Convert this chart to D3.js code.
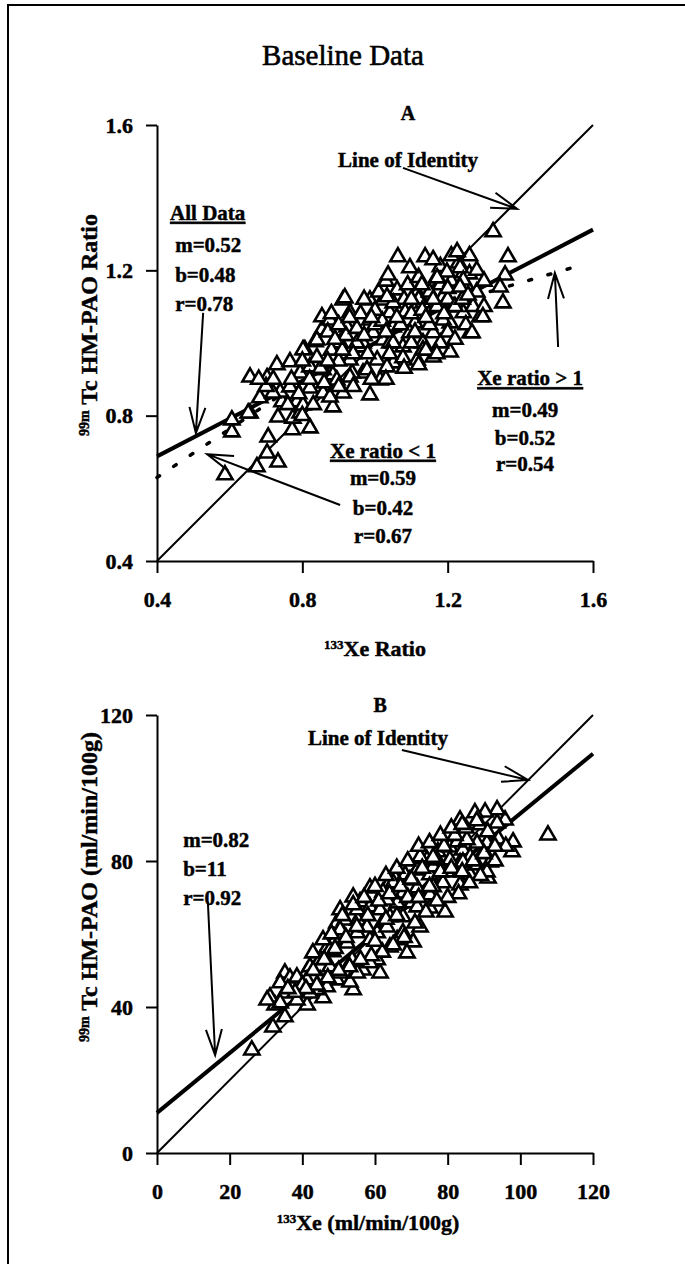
<!DOCTYPE html>
<html>
<head>
<meta charset="utf-8">
<script src="https://cdn.jsdelivr.net/npm/d3@7"></script>
<style>
    body { margin: 0; background: #fff; }
    svg text { font-family: 'Liberation Serif', 'Times New Roman', serif; fill: #000; stroke: #000; stroke-width: 0.45px; }
</style>
</head>
<body>
<div id="chart"></div>
<script>
// ---- panel A: ratios ----
const ratioTicks = [0.4, 0.8, 1.2, 1.6];
const ratioPoints = [
    [0.587, 0.637], [0.675, 0.659], [0.733, 0.672], [0.703, 0.697], [0.706, 0.741],
    [0.606, 0.755], [0.606, 0.788], [0.656, 0.807], [0.733, 0.796], [0.772, 0.761],
    [0.821, 0.766], [0.774, 0.793], [0.794, 0.807], [0.683, 0.849], [0.744, 0.838],
    [0.785, 0.838], [0.802, 0.829], [0.884, 0.824], [0.656, 0.906], [0.703, 0.904],
    [0.739, 0.865], [0.774, 0.89], [0.821, 0.876], [0.857, 0.862], [0.912, 0.862],
    [0.986, 0.857], [0.719, 0.862], [0.766, 0.879], [0.73, 0.94], [0.766, 0.948],
    [0.794, 0.917], [0.821, 0.934], [0.807, 0.981], [0.835, 1.003], [0.854, 1.036],
    [0.854, 1.072], [0.876, 1.063], [0.912, 1.118], [0.931, 1.083], [0.904, 1.0],
    [0.986, 1.118], [0.986, 1.063], [1.022, 1.118], [1.061, 1.146], [1.041, 1.083],
    [1.083, 1.085], [1.11, 1.055], [1.116, 1.138], [1.132, 1.11], [1.171, 1.182],
    [1.187, 1.127], [1.215, 1.099], [1.207, 1.055], [1.243, 1.083], [1.253, 1.127],
    [1.243, 1.193], [1.289, 1.072], [1.262, 1.028], [1.207, 0.975], [1.16, 0.961],
    [1.116, 0.953], [1.132, 1.0], [1.077, 0.989], [1.05, 0.945], [1.006, 0.953],
    [0.967, 0.917], [0.937, 0.917], [0.884, 0.912], [0.876, 0.851], [0.931, 0.953],
    [0.959, 0.989], [1.022, 1.008], [1.096, 1.028], [1.05, 1.044], [0.995, 1.028],
    [0.923, 1.044], [1.187, 1.063], [1.16, 1.028], [1.014, 0.898], [1.132, 0.981],
    [1.077, 0.959], [1.033, 0.934], [0.978, 0.926], [0.931, 0.906], [0.895, 0.898],
    [0.857, 0.926], [0.802, 0.981], [0.84, 1.008], [0.967, 1.0], [1.041, 1.0],
    [0.95, 1.0], [1.0, 1.05], [1.05, 1.0], [1.1, 1.08], [1.15, 1.05],
    [1.2, 1.12], [0.9, 0.95], [0.85, 0.93], [0.98, 0.97], [1.12, 1.12],
    [1.02, 1.06], [1.08, 1.12], [1.18, 1.0], [0.92, 1.02], [0.96, 1.08],
    [1.04, 0.97], [1.14, 0.98], [1.22, 1.1], [1.27, 1.1], [1.25, 1.16],
    [0.88, 0.98], [0.82, 0.9], [0.79, 0.86], [0.76, 0.83], [0.7, 0.88],
    [1.1, 1.0], [1.2, 1.03], [1.07, 1.05], [0.94, 0.97], [1.0, 1.09],
    [0.87, 1.03], [1.13, 1.09], [1.18, 1.16], [0.651, 0.807],
    [0.88, 1.08], [0.9, 1.05], [0.95, 1.04], [0.97, 1.12], [1.01, 1.14],
    [1.05, 1.11], [1.09, 1.16], [1.12, 1.18], [1.15, 1.14], [1.18, 1.21],
    [1.21, 1.17], [1.23, 1.22], [1.26, 1.19], [1.28, 1.14], [1.3, 1.1],
    [1.25, 1.05], [1.22, 1.01], [1.17, 0.97], [1.12, 0.94], [1.08, 0.93],
    [1.03, 0.9], [0.99, 0.9], [0.94, 0.88], [0.9, 0.88], [0.86, 0.89],
    [0.84, 0.96], [0.87, 0.95], [0.91, 0.98], [0.97, 1.02], [1.03, 1.03],
    [1.06, 1.07], [1.11, 1.03], [1.14, 1.07], [1.17, 1.1], [1.19, 1.08],
    [1.24, 1.12], [1.03, 1.17], [0.99, 1.07], [0.93, 1.07], [0.89, 1.01],
    [1.1, 1.12], [1.16, 1.12], [1.2, 1.15], [0.83, 0.83], [0.8, 0.8],
    [0.77, 0.9], [0.72, 0.9], [0.68, 0.9], [0.8, 0.95], [1.28, 1.2],
    [1.3, 1.17], [1.26, 1.24], [1.21, 1.24],
    [1.325, 1.306], [1.063, 1.237], [1.138, 1.237], [1.16, 1.229], [1.226, 1.251],
    [1.366, 1.237], [1.036, 1.187], [1.096, 1.207], [1.358, 1.187], [1.352, 1.11],
    [1.344, 1.154], [1.234, 1.207], [1.243, 1.173], [1.198, 1.195], [1.171, 1.179],
    [1.129, 1.16], [1.234, 1.154], [1.256, 1.132], [0.917, 1.124], [1.033, 1.127],
    [1.297, 1.072], [1.267, 1.028]
];
const ratioFitAll = [0.52, 0.48];        // slope, intercept
const ratioFitLow = [[0.4, 0.63], [1.0, 1.03]];   // dotted, Xe ratio < 1
const ratioFitHigh = [[1.0, 1.05], [1.57, 1.215]]; // dotted, Xe ratio > 1

// ---- panel B: flows ----
const flowTicks = [0, 20, 40, 60, 80, 100, 120];
const flowYTicks = [0, 40, 80, 120];
const flowPoints = [
    [26.1, 28.2], [31.9, 34.5], [35.2, 37.3], [32.5, 40.5], [31.1, 42.7],
    [35.2, 43.8], [41.3, 40.5], [45.7, 42.5], [44.0, 44.7], [39.9, 44.7],
    [35.2, 49.3], [36.6, 47.9], [41.3, 49.6], [44.9, 47.4], [49.5, 47.4],
    [54.0, 44.7], [53.1, 46.8], [56.7, 50.1], [61.4, 49.3], [60.6, 52.9],
    [53.7, 52.9], [48.4, 55.1], [44.9, 52.9], [46.8, 56.2], [49.0, 58.4],
    [49.5, 63.0], [51.7, 63.8], [55.3, 63.8], [55.1, 60.3], [60.6, 60.3],
    [66.1, 58.4], [70.5, 57.8], [68.8, 54.8], [72.4, 61.9], [64.1, 64.7],
    [67.7, 64.7], [70.2, 68.5], [75.1, 67.1], [79.3, 66.0], [75.1, 70.7],
    [71.6, 72.6], [60.6, 67.4], [55.9, 68.8], [54.0, 70.1], [58.6, 72.6],
    [63.3, 72.9], [65.0, 76.2], [68.3, 76.2], [71.6, 77.5], [75.1, 76.2],
    [78.7, 74.0], [83.4, 73.4], [79.8, 77.0], [76.0, 78.4], [74.3, 80.3],
    [77.3, 82.5], [80.6, 83.8], [84.2, 83.0], [82.6, 85.2], [83.4, 79.5],
    [86.2, 76.2], [91.1, 75.3], [88.1, 78.9], [89.7, 82.2], [90.8, 84.9],
    [97.7, 82.5], [98.0, 85.2], [107.6, 87.1], [95.8, 91.2], [93.6, 90.4],
    [88.9, 89.9], [93.6, 94.0], [90.3, 93.4], [87.5, 93.2], [83.4, 91.2],
    [47.6, 55.6], [58.6, 58.4], [52.3, 57.5], [62.2, 63.3], [58.6, 67.4],
    [57.8, 61.9], [67.7, 71.2], [66.1, 68.5], [71.6, 67.4], [63.3, 69.3],
    [76.0, 72.9], [80.6, 80.3], [86.2, 81.1], [88.1, 84.9], [85.3, 85.8],
    [91.7, 79.7], [90.8, 77.0], [84.2, 79.7], [77.1, 80.3], [72.4, 81.1],
    [65.0, 74.0], [69.6, 74.8], [62.2, 71.5], [50.4, 61.1], [45.7, 58.4],
    [42.9, 54.8], [42.1, 51.0], [38.5, 48.2], [42.9, 48.2], [47.6, 51.0],
    [50.4, 49.3], [46.8, 45.5], [42.1, 43.8], [38.5, 41.9], [33.9, 41.1],
    [30.3, 41.9], [33.9, 46.6], [41.3, 47.4], [55.1, 49.3], [58.6, 52.1],
    [64.1, 56.4], [67.7, 60.3], [63.3, 61.9], [61.4, 66.6], [55.1, 66.6],
    [50.4, 66.6],
    [40, 46], [43, 50], [46, 53], [49, 56], [52, 59], [55, 62], [58, 65],
    [61, 69], [64, 71], [67, 73], [70, 75], [73, 78], [76, 81], [79, 84],
    [82, 87], [85, 89], [88, 91], [91, 88], [94, 86], [96, 84], [93, 80],
    [89, 76], [86, 74], [83, 71], [80, 70], [77, 69], [74, 66], [71, 63],
    [68, 59], [65, 57], [62, 55], [59, 54], [56, 53], [53, 51], [50, 50],
    [47, 48], [44, 46], [41, 45], [38, 44], [36, 45], [48, 60], [51, 65],
    [54, 68], [57, 70], [60, 73], [63, 76], [66, 78], [69, 80], [72, 84],
    [75, 85], [78, 87], [81, 89], [84, 90], [60, 58], [63, 64], [66, 65],
    [69, 70], [72, 70], [75, 73], [78, 77], [81, 78], [84, 77], [87, 80],
    [90, 82], [93, 84]
];
const flowFit = [0.82, 11];

const width = 685;
const height = 1264;

const svg = d3.select('#chart')
    .append('svg')
    .attr('width', width)
    .attr('height', height);

// frame
svg.append('path')
    .attr('d', 'M8,1264V5H685')
    .attr('fill', 'none')
    .attr('stroke', '#000')
    .attr('stroke-width', 2);

svg.append('text')
    .attr('x', 343).attr('y', 65)
    .attr('text-anchor', 'middle')
    .style('font-size', '29px')
    .style('stroke-width', '0.6px')
    .text('Baseline Data');

function drawArrow(g, x, y, from, to) {
    const x0 = x(from[0]), y0 = y(from[1]);
    const x1 = x(to[0]), y1 = y(to[1]);
    const ang = Math.atan2(y0 - y1, x0 - x1);
    const len = 27, spread = 0.3;
    g.append('path')
        .attr('d', `M${x0},${y0}L${x1},${y1}` +
            `M${x1 + len * Math.cos(ang - spread)},${y1 + len * Math.sin(ang - spread)}L${x1},${y1}` +
            `L${x1 + len * Math.cos(ang + spread)},${y1 + len * Math.sin(ang + spread)}`)
        .attr('fill', 'none')
        .attr('stroke', '#000')
        .attr('stroke-width', 2);
}

function addText(g, x, y, pos, str, opts) {
    const t = g.append('text')
        .attr('x', x(pos[0]))
        .attr('y', y(pos[1]))
        .attr('text-anchor', opts.anchor || 'start')
        .style('font-size', (opts.size || 21) + 'px')
        .style('font-weight', 'bold')
        .text(str);
    if (opts.underline) t.style('text-decoration', 'underline');
}

function styleAxis(g) {
    g.select('.domain').attr('stroke-width', 2);
    g.selectAll('.tick line').attr('stroke-width', 2);
    g.selectAll('.tick text')
        .style('font-size', '22px')
        .style('font-weight', 'bold')
        .style('font-family', "'Liberation Serif', serif");
}

const tri = d3.symbol().type(d3.symbolTriangle).size(100);

function drawPoints(g, data, x, y) {
    g.selectAll('path.pt')
        .data(data)
        .enter()
        .append('path')
        .attr('class', 'pt')
        .attr('d', tri)
        .attr('transform', (d) => `translate(${x(d[0])},${y(d[1])})`)
        .attr('fill', '#fff')
        .attr('stroke', '#000')
        .attr('stroke-width', 2.6);
}

// ================= panel A =================
const xA = d3.scaleLinear().domain([0.4, 1.6]).range([157, 593]);
const yA = d3.scaleLinear().domain([0.4, 1.6]).range([561, 125]);
const gA = svg.append('g');

const axisAy = gA.append('g')
    .attr('transform', 'translate(157,0)')
    .call(d3.axisLeft(yA).tickValues(ratioTicks).tickSize(11).tickSizeOuter(0)
        .tickPadding(13).tickFormat(d3.format('.1f')));
styleAxis(axisAy);
const axisAx = gA.append('g')
    .attr('transform', 'translate(0,561)')
    .call(d3.axisBottom(xA).tickValues(ratioTicks).tickSize(12).tickSizeOuter(0)
        .tickPadding(18).tickFormat(d3.format('.1f')));
styleAxis(axisAx);

const lineA = d3.line().x((d) => xA(d[0])).y((d) => yA(d[1]));
// identity
gA.append('path').attr('d', lineA([[0.4, 0.4], [1.6, 1.6]]))
    .attr('stroke', '#000').attr('stroke-width', 2).attr('fill', 'none');
// all data fit
gA.append('path')
    .attr('d', lineA([0.4, 1.6].map((v) => [v, ratioFitAll[0] * v + ratioFitAll[1]])))
    .attr('stroke', '#000').attr('stroke-width', 4).attr('fill', 'none');
// dotted partial fits
[ratioFitLow, ratioFitHigh].forEach((seg) => {
    gA.append('path').attr('d', lineA(seg))
        .attr('stroke', '#000').attr('stroke-width', 3.5).attr('fill', 'none')
        .attr('stroke-linecap', 'round')
        .attr('stroke-dasharray', '3,17');
});

drawPoints(gA, ratioPoints, xA, yA);

drawArrow(gA, xA, yA, [1.077, 1.482], [1.391, 1.369]);
drawArrow(gA, xA, yA, [0.527, 1.083], [0.507, 0.752]);
drawArrow(gA, xA, yA, [0.904, 0.554], [0.538, 0.694]);
drawArrow(gA, xA, yA, [1.504, 0.989], [1.495, 1.193]);

addText(gA, xA, yA, [1.091, 1.614], 'A', { anchor: 'middle', size: 20 });
addText(gA, xA, yA, [1.091, 1.484], 'Line of Identity', { anchor: 'middle' });
addText(gA, xA, yA, [0.436, 1.339], 'All Data', { underline: true });
addText(gA, xA, yA, [0.45, 1.25], 'm=0.52', {});
addText(gA, xA, yA, [0.45, 1.168], 'b=0.48', {});
addText(gA, xA, yA, [0.45, 1.088], 'r=0.78', {});
addText(gA, xA, yA, [1.427, 0.884], 'Xe ratio > 1', { anchor: 'middle', underline: true });
addText(gA, xA, yA, [1.413, 0.796], 'm=0.49', { anchor: 'middle' });
addText(gA, xA, yA, [1.413, 0.719], 'b=0.52', { anchor: 'middle' });
addText(gA, xA, yA, [1.413, 0.648], 'r=0.54', { anchor: 'middle' });
addText(gA, xA, yA, [1.022, 0.684], 'Xe ratio < 1', { anchor: 'middle', underline: true });
addText(gA, xA, yA, [1.022, 0.609], 'm=0.59', { anchor: 'middle' });
addText(gA, xA, yA, [1.022, 0.527], 'b=0.42', { anchor: 'middle' });
addText(gA, xA, yA, [1.022, 0.45], 'r=0.67', { anchor: 'middle' });

// axis titles A
const xtA = svg.append('text')
    .attr('x', 375).attr('y', 656)
    .attr('text-anchor', 'middle')
    .style('font-size', '22px').style('font-weight', 'bold');
xtA.append('tspan').attr('dy', -7).style('font-size', '13px').text('133');
xtA.append('tspan').attr('dy', 7).text('Xe Ratio');

const ytA = svg.append('text')
    .attr('transform', 'translate(97,325) rotate(-90)')
    .attr('text-anchor', 'middle')
    .style('font-size', '24px').style('font-weight', 'bold');
ytA.append('tspan').attr('dy', -8).style('font-size', '14px').text('99m');
ytA.append('tspan').attr('dy', 8).text(' Tc HM-PAO Ratio');

// ================= panel B =================
const xB = d3.scaleLinear().domain([0, 120]).range([157, 593]);
const yB = d3.scaleLinear().domain([0, 120]).range([1153, 715]);
const gB = svg.append('g');

const axisBy = gB.append('g')
    .attr('transform', 'translate(157,0)')
    .call(d3.axisLeft(yB).tickValues(flowYTicks).tickSize(11).tickSizeOuter(0).tickPadding(13));
styleAxis(axisBy);
const axisBx = gB.append('g')
    .attr('transform', 'translate(0,1153)')
    .call(d3.axisBottom(xB).tickValues(flowTicks).tickSize(12).tickSizeOuter(0).tickPadding(18));
styleAxis(axisBx);

const lineB = d3.line().x((d) => xB(d[0])).y((d) => yB(d[1]));
gB.append('path').attr('d', lineB([[0, 0], [120, 120]]))
    .attr('stroke', '#000').attr('stroke-width', 2).attr('fill', 'none');
gB.append('path')
    .attr('d', lineB([0, 120].map((v) => [v, flowFit[0] * v + flowFit[1]])))
    .attr('stroke', '#000').attr('stroke-width', 4).attr('fill', 'none');

drawPoints(gB, flowPoints, xB, yB);

drawArrow(gB, xB, yB, [67.4, 110.4], [102.1, 102.2]);
drawArrow(gB, xB, yB, [14.0, 68.8], [16.0, 26.8]);

addText(gB, xB, yB, [61.4, 120.8], 'B', { anchor: 'middle', size: 20 });
addText(gB, xB, yB, [60.8, 111.8], 'Line of Identity', { anchor: 'middle' });
addText(gB, xB, yB, [7.2, 83.8], 'm=0.82', {});
addText(gB, xB, yB, [7.2, 75.9], 'b=11', {});
addText(gB, xB, yB, [7.2, 67.9], 'r=0.92', {});

const xtB = svg.append('text')
    .attr('x', 368).attr('y', 1230)
    .attr('text-anchor', 'middle')
    .style('font-size', '22px').style('font-weight', 'bold');
xtB.append('tspan').attr('dy', -7).style('font-size', '13px').text('133');
xtB.append('tspan').attr('dy', 7).text('Xe (ml/min/100g)');

const ytB = svg.append('text')
    .attr('transform', 'translate(97,887) rotate(-90)')
    .attr('text-anchor', 'middle')
    .style('font-size', '24px').style('font-weight', 'bold');
ytB.append('tspan').attr('dy', -8).style('font-size', '14px').text('99m');
ytB.append('tspan').attr('dy', 8).text(' Tc HM-PAO (ml/min/100g)');
</script>
</body>
</html>
